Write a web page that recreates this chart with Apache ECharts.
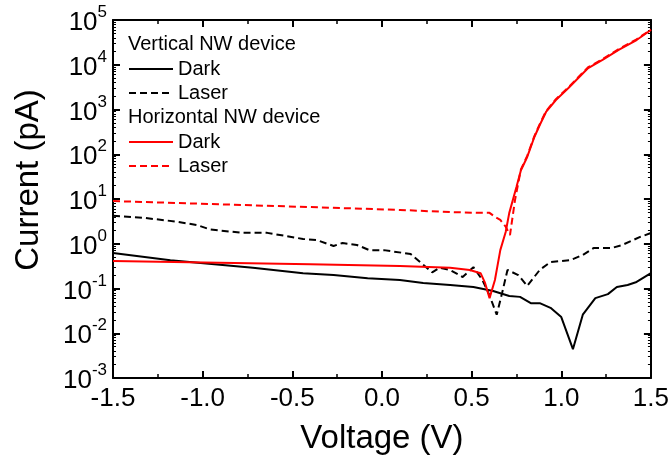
<!DOCTYPE html>
<html>
<head>
<meta charset="utf-8">
<script src="https://cdn.jsdelivr.net/npm/echarts@6/dist/echarts.min.js"></script>
<style>html,body{margin:0;padding:0;background:#fff;}#c{width:672px;height:461px;}</style>
</head>
<body>
<div id="c"></div>
<script>
// ---- data (voltage in V, current in pA) ----
var vertDarkV = [-1.5,-1.18,-0.72,-0.44,-0.27,-0.08,0.10,0.23,0.38,0.51,0.62,0.71,0.77,0.83,0.88,0.94,1.00,1.065,1.12,1.19,1.26,1.31,1.37,1.42,1.5];
var vertDarkI = [0.62,0.43,0.29,0.22,0.20,0.17,0.155,0.133,0.12,0.108,0.088,0.068,0.065,0.047,0.047,0.037,0.023,0.0044,0.026,0.061,0.075,0.108,0.12,0.14,0.22];

var vertLaserV = [-1.5,-1.33,-1.14,-1.03,-0.96,-0.78,-0.64,-0.44,-0.36,-0.27,-0.22,-0.14,-0.07,0.01,0.16,0.23,0.28,0.32,0.38,0.45,0.51,0.56,0.60,0.64,0.67,0.70,0.76,0.81,0.88,0.94,1.05,1.12,1.18,1.28,1.34,1.44,1.5];
var vertLaserI = [4.2,3.8,3.1,2.6,2.1,1.75,1.75,1.28,1.2,0.89,1.04,0.94,0.72,0.72,0.59,0.34,0.23,0.29,0.26,0.18,0.30,0.155,0.07,0.026,0.079,0.26,0.20,0.114,0.26,0.39,0.43,0.56,0.80,0.80,0.94,1.42,1.74];

var horDarkV = [-1.5,-0.40,0.10,0.38,0.49,0.55,0.575,0.60,0.63,0.66,0.69,0.71,0.75,0.775,0.81,0.85,0.88,0.915,0.97,1.04,1.15,1.23,1.32,1.42,1.5];
var horDarkI = [0.41,0.35,0.32,0.29,0.26,0.22,0.133,0.061,0.155,0.72,1.83,4.9,18.5,44,87,243,450,880,1630,3020,8450,12800,21400,35700,59800];

var horLaserV = [-1.5,-0.40,0.10,0.38,0.55,0.60,0.63,0.66,0.69,0.714,0.725,0.742,0.758,0.775,0.81,0.85,0.88,0.915,0.97,1.04,1.15,1.23,1.32,1.42,1.5];
var horLaserI = [9.0,6.6,5.7,5.1,4.9,4.9,4.0,3.4,2.4,1.57,1.7,9.5,20.6,46,92,255,470,920,1700,3150,8800,13300,22300,37000,61000];

var xTicks = [-1.5,-1.0,-0.5,0.0,0.5,1.0,1.5];
var yExponents = [-3,-2,-1,0,1,2,3,4,5];
var groupTitles = ['Vertical NW device','Horizontal NW device'];
var entryLabels = ['Dark','Laser'];

function pairs(xs, ys){ return xs.map(function(x,i){ return [x, ys[i]]; }); }

var FONT = '"Liberation Sans", Arial, Helvetica, sans-serif';
var chart = echarts.init(document.getElementById('c'), null, {renderer:'canvas'});

var axisLineStyle = {color:'#000', width:2};
function xAx(pos, showLabel, extra){
  var a = {
    type:'value', position:pos, min:xTicks[0], max:xTicks[xTicks.length-1], interval:0.5,
    axisLine:{show:true, onZero:false, lineStyle:axisLineStyle},
    axisTick:{show:true, inside:true, length:7, lineStyle:{width:2,color:'#000'}},
    minorTick:{show:true, splitNumber:2, length:4, lineStyle:{width:1.5,color:'#000'}},
    splitLine:{show:false},
    axisLabel:{show:showLabel, margin:8, fontSize:26, fontFamily:FONT, color:'#000',
      formatter:function(v){ return v.toFixed(1); }}
  };
  return Object.assign(a, extra||{});
}
function yAx(pos, showLabel, extra){
  var a = {
    type:'log', logBase:10, position:pos,
    min:Math.pow(10,yExponents[0]), max:Math.pow(10,yExponents[yExponents.length-1]),
    axisLine:{show:true, onZero:false, lineStyle:axisLineStyle},
    axisTick:{show:true, inside:true, length:7, lineStyle:{width:2,color:'#000'}},
    minorTick:{show:true, splitNumber:9, length:3, lineStyle:{width:1,color:'#000'}},
    splitLine:{show:false},
    axisLabel:{show:showLabel, margin:6, fontFamily:FONT, color:'#000',
      formatter:function(v){ var e=Math.round(Math.log(v)/Math.LN10); return '{b|10}{s|'+e+'}'; },
      rich:{
        b:{fontSize:26, fontFamily:FONT, color:'#000', padding:[6,0,0,0]},
        s:{fontSize:17, fontFamily:FONT, color:'#000', verticalAlign:'top'}
      }}
  };
  return Object.assign(a, extra||{});
}

var lineW = 2;
var dash = [7,4];
function legendCfg(names, top){
  return {data:names, orient:'vertical', left:128, top:top, padding:0,
    itemWidth:44, itemHeight:14, itemGap:0, selectedMode:false,
    itemStyle:{opacity:0},
    formatter:function(n){ return n.split(' ')[1]; },
    textStyle:{fontSize:20, fontFamily:FONT, color:'#000', lineHeight:24}};
}
var option = {
  backgroundColor:'#fff',
  animation:false,
  grid:{left:113, right:21, top:20, bottom:83, containLabel:false},
  xAxis:[
    xAx('bottom', true, {name:'Voltage (V)', nameLocation:'middle', nameGap:44,
      nameTextStyle:{fontSize:33, fontFamily:FONT, color:'#000'}}),
    xAx('top', false)
  ],
  yAxis:[
    yAx('left', true, {name:'Current (pA)', nameLocation:'middle', nameGap:68,
      nameTextStyle:{fontSize:33, fontFamily:FONT, color:'#000', padding:[0,0,0,38]}}),
    yAx('right', false)
  ],
  legend:[
    legendCfg(['Vertical Dark','Vertical Laser'], 57),
    legendCfg(['Horizontal Dark','Horizontal Laser'], 130)
  ],
  graphic:[
    {type:'text', left:128, top:34, style:{text:groupTitles[0], fontSize:20, fontFamily:FONT, fill:'#000'}},
    {type:'text', left:128, top:107, style:{text:groupTitles[1], fontSize:20, fontFamily:FONT, fill:'#000'}}
  ],
  series:[
    {name:'Vertical Dark', type:'line', data:pairs(vertDarkV,vertDarkI), symbol:'none', color:'#000',
     lineStyle:{color:'#000', width:lineW}},
    {name:'Vertical Laser', type:'line', data:pairs(vertLaserV,vertLaserI), symbol:'none', color:'#000',
     lineStyle:{color:'#000', width:lineW, type:dash}},
    {name:'Horizontal Dark', type:'line', data:pairs(horDarkV,horDarkI), symbol:'none', color:'#ff0000',
     lineStyle:{color:'#ff0000', width:lineW}},
    {name:'Horizontal Laser', type:'line', data:pairs(horLaserV,horLaserI), symbol:'none', color:'#ff0000',
     lineStyle:{color:'#ff0000', width:lineW, type:dash}}
  ]
};
chart.setOption(option);
</script>
</body>
</html>
